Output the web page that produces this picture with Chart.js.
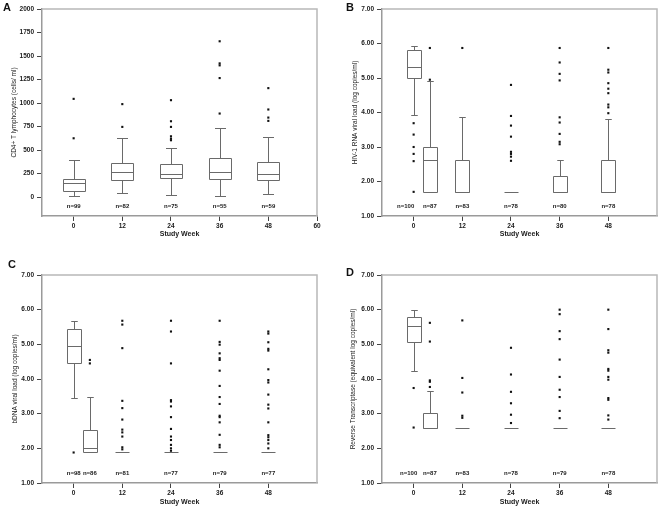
<!DOCTYPE html>
<html>
<head>
<meta charset="utf-8">
<script src="https://cdn.jsdelivr.net/npm/chart.js@4.4.1/dist/chart.umd.min.js"></script>
<style>
  html, body { margin: 0; padding: 0; background: #fff; }
  #wrap { position: relative; width: 661px; height: 508px; }
  canvas { position: absolute; }
  .letter { position: absolute; font: bold 11px "Liberation Sans", Arial, sans-serif; line-height: 11px; color: #111; }
</style>
</head>
<body>
<div id="wrap">
  <canvas id="chartA" width="330" height="254" style="left:0;top:0"></canvas>
  <canvas id="chartB" width="331" height="254" style="left:330px;top:0"></canvas>
  <canvas id="chartC" width="330" height="254" style="left:0;top:254px"></canvas>
  <canvas id="chartD" width="331" height="254" style="left:330px;top:254px"></canvas>
  <div class="letter" style="left:3px;top:2px">A</div>
  <div class="letter" style="left:346px;top:2px">B</div>
  <div class="letter" style="left:8px;top:259px">C</div>
  <div class="letter" style="left:346px;top:267px">D</div>
</div>
<script>
// tick labels
const weekTicksA = [0, 12, 24, 36, 48, 60];
const weekTicks = [0, 12, 24, 36, 48];
const cd4Ticks = [0, 250, 500, 750, 1000, 1250, 1500, 1750, 2000];
const logTicks = [1, 2, 3, 4, 5, 6, 7];

// A - CD4+ T lymphocytes
const aWeeks = [0, 12, 24, 36, 48];
const aLow = [10, 40, 28, 13, 38];
const aQ1 = [64, 180, 199, 197, 178];
const aMed = [152, 272, 249, 270, 243];
const aQ3 = [197, 367, 353, 413, 377];
const aHigh = [400, 632, 526, 730, 643];
const aCounts = [99, 82, 75, 55, 59];
const aOutliers = [
  [626, 1045],
  [747, 989],
  [605, 622, 647, 747, 807, 1031],
  [889, 1266, 1401, 1422, 1657],
  [811, 846, 932, 1159]
];

// B - HIV-1 RNA viral load
const bWeeks = [0, 4, 12, 24, 36, 48];
const bLow = [3.93, 1.70, 1.70, 1.70, 1.70, 1.70];
const bQ1 = [5.00, 1.70, 1.70, 1.70, 1.70, 1.70];
const bMed = [5.31, 2.61, 1.70, 1.70, 1.70, 1.70];
const bQ3 = [5.81, 3.00, 2.61, 1.70, 2.15, 2.61];
const bHigh = [5.94, 4.92, 3.86, 1.70, 2.61, 3.81];
const bCounts = [100, 87, 83, 78, 80, 78];
const bOutliers = [
  [3.69, 3.36, 3.00, 2.80, 2.59, 1.70],
  [5.87, 4.95],
  [5.87],
  [4.80, 3.90, 3.62, 3.30, 2.86, 2.80, 2.72, 2.60],
  [5.87, 5.45, 5.12, 4.93, 3.86, 3.71, 3.38, 3.15, 3.08],
  [5.87, 5.24, 5.16, 4.85, 4.69, 4.56, 4.23, 4.15, 3.98]
];

// C - bDNA viral load
const cWeeks = [0, 4, 12, 24, 36, 48];
const cLow = [3.45, 1.88, 1.88, 1.88, 1.88, 1.88];
const cQ1 = [4.46, 1.88, 1.88, 1.88, 1.88, 1.88];
const cMed = [4.94, 2.00, 1.88, 1.88, 1.88, 1.88];
const cQ3 = [5.44, 2.52, 1.88, 1.88, 1.88, 1.88];
const cHigh = [5.68, 3.47, 1.88, 1.88, 1.88, 1.88];
const cCounts = [98, 86, 81, 77, 79, 77];
const cOutliers = [
  [1.88],
  [4.55, 4.45],
  [5.68, 5.57, 4.89, 3.37, 3.16, 2.83, 2.54, 2.46, 2.34, 2.03, 1.97],
  [5.68, 5.37, 4.45, 3.39, 3.35, 3.21, 2.90, 2.56, 2.34, 2.24, 2.10, 2.00, 1.93],
  [5.68, 5.07, 4.99, 4.74, 4.60, 4.55, 4.24, 3.80, 3.48, 3.28, 2.94, 2.90, 2.75, 2.39, 2.10, 2.03],
  [5.37, 5.31, 5.06, 4.87, 4.82, 4.28, 3.97, 3.90, 3.55, 3.26, 3.15, 2.75, 2.38, 2.32, 2.24, 2.14, 2.00]
];

// D - Reverse Transcriptase
const dWeeks = [0, 4, 12, 24, 36, 48];
const dLow = [4.24, 2.60, 2.60, 2.60, 2.60, 2.60];
const dQ1 = [5.08, 2.60, 2.60, 2.60, 2.60, 2.60];
const dMed = [5.54, 2.60, 2.60, 2.60, 2.60, 2.60];
const dQ3 = [5.78, 3.03, 2.60, 2.60, 2.60, 2.60];
const dHigh = [5.99, 3.66, 2.60, 2.60, 2.60, 2.60];
const dCounts = [100, 87, 83, 78, 79, 78];
const dOutliers = [
  [3.74, 2.60],
  [5.62, 5.08, 3.96, 3.92, 3.77],
  [5.69, 4.03, 3.61, 2.94, 2.88],
  [4.90, 4.13, 3.63, 3.30, 2.97, 2.73],
  [6.00, 5.87, 5.38, 5.15, 4.56, 4.06, 3.69, 3.48, 3.08, 2.87],
  [6.00, 5.44, 4.83, 4.76, 4.29, 4.24, 4.06, 3.98, 3.45, 3.40, 2.95, 2.83]
];

const FONT = '"Liberation Sans", Arial, sans-serif';
const TEXT = '#1a1a1a';

// draws boxes, whiskers, frame and n= labels through the chart scales
function boxPlugin(p) {
  return {
    id: 'boxPlot',
    beforeDatasetsDraw(chart) {
      const { ctx, chartArea: a, scales: { x, y } } = chart;
      ctx.save();
      // top + right frame
      ctx.strokeStyle = '#b8b8b8';
      ctx.lineWidth = 1.5;
      ctx.beginPath();
      ctx.moveTo(a.left, a.top);
      ctx.lineTo(a.right, a.top);
      ctx.lineTo(a.right, a.bottom);
      ctx.stroke();

      ctx.strokeStyle = '#6a6a6a';
      ctx.lineWidth = 1;
      p.weeks.forEach((w, i) => {
        const cx = Math.round(x.getPixelForValue(w)) + 0.5;
        const hw = p.boxWidth / 2, cw = p.capWidth / 2;
        const py = v => Math.round(y.getPixelForValue(v)) + 0.5;
        const yLow = py(p.low[i]), yQ1 = py(p.q1[i]), yMed = py(p.med[i]);
        const yQ3 = py(p.q3[i]), yHigh = py(p.high[i]);
        ctx.beginPath();
        if (p.q3[i] > p.q1[i]) ctx.rect(cx - hw, yQ3, 2 * hw, yQ1 - yQ3);
        ctx.moveTo(cx - hw, yMed);
        ctx.lineTo(cx + hw, yMed);
        if (p.high[i] > p.q3[i]) {
          ctx.moveTo(cx, yQ3); ctx.lineTo(cx, yHigh);
          ctx.moveTo(cx - cw, yHigh); ctx.lineTo(cx + cw, yHigh);
        }
        if (p.low[i] < p.q1[i]) {
          ctx.moveTo(cx, yQ1); ctx.lineTo(cx, yLow);
          ctx.moveTo(cx - cw, yLow); ctx.lineTo(cx + cw, yLow);
        }
        ctx.stroke();
      });

      ctx.fillStyle = TEXT;
      ctx.font = 'bold 6px ' + FONT;
      ctx.textAlign = 'center';
      ctx.textBaseline = 'middle';
      p.counts.forEach((n, i) => {
        const cx = x.getPixelForValue(p.weeks[i]) + (p.countShift[i] || 0);
        ctx.fillText('n=' + n, cx, a.bottom - 10);
      });
      ctx.restore();
    }
  };
}

function makeChart(id, p) {
  const points = p.weeks.flatMap((w, i) => p.outliers[i].map(v => ({ x: w, y: v })));
  const tickFont = { family: FONT, size: 6.5, weight: 'bold' };
  const grid = { drawOnChartArea: false, drawTicks: true, tickLength: 5, color: '#444', lineWidth: 1 };
  const border = { display: true, color: '#9a9a9a', width: 1.5 };
  return new Chart(document.getElementById(id), {
    type: 'scatter',
    data: {
      datasets: [{
        data: points,
        pointStyle: 'rect',
        pointRadius: 1.5,
        pointBorderWidth: 0,
        backgroundColor: '#111',
        borderColor: '#111'
      }]
    },
    options: {
      responsive: false,
      animation: false,
      layout: { padding: p.padding },
      plugins: { legend: { display: false }, tooltip: { enabled: false } },
      scales: {
        x: {
          type: 'linear',
          min: -7.8,
          max: 60,
          afterFit: s => { s.height = p.xAxisHeight; },
          afterBuildTicks: s => { s.ticks = p.xTicks.map(v => ({ value: v })); },
          border, grid,
          ticks: { font: tickFont, color: TEXT, padding: 1, maxRotation: 0, autoSkip: false },
          title: {
            display: true, text: 'Study Week', color: TEXT,
            font: { family: FONT, size: 7, weight: 'bold' },
            padding: { top: 0, bottom: p.xTitlePad }
          }
        },
        y: {
          type: 'linear',
          min: p.yMin,
          max: p.yMax,
          afterFit: s => { s.width = p.yAxisWidth; },
          afterBuildTicks: s => { s.ticks = p.yTicks.map(v => ({ value: v })); },
          border, grid,
          ticks: { font: tickFont, color: TEXT, padding: 3, callback: p.yFormat },
          title: {
            display: true, text: p.yTitle, color: TEXT,
            font: { family: FONT, size: 6.5 },
            padding: { top: p.yTitlePad, bottom: 0 }
          }
        }
      }
    },
    plugins: [boxPlugin(p)]
  });
}

const fmt2 = v => Number(v).toFixed(2);

makeChart('chartA', {
  weeks: aWeeks, low: aLow, q1: aQ1, med: aMed, q3: aQ3, high: aHigh,
  counts: aCounts, outliers: aOutliers, countShift: [],
  xTicks: weekTicksA, yTicks: cd4Ticks, yMin: -200, yMax: 2000, yFormat: v => String(v),
  yTitle: 'CD4+ T lymphocytes (cells/ ml)',
  boxWidth: 22, capWidth: 11,
  padding: { top: 9, right: 13, bottom: 0, left: 0 },
  yAxisWidth: 42, xAxisHeight: 38, xTitlePad: 15.3, yTitlePad: 10.1
});

makeChart('chartB', {
  weeks: bWeeks, low: bLow, q1: bQ1, med: bMed, q3: bQ3, high: bHigh,
  counts: bCounts, outliers: bOutliers, countShift: [-8, 0],
  xTicks: weekTicks, yTicks: logTicks, yMin: 1, yMax: 7, yFormat: fmt2,
  yTitle: 'HIV-1 RNA viral load (log copies/ml)',
  boxWidth: 14, capWidth: 6.5,
  padding: { top: 9, right: 4, bottom: 0, left: 0 },
  yAxisWidth: 52, xAxisHeight: 38, xTitlePad: 15.3, yTitlePad: 21.5
});

makeChart('chartC', {
  weeks: cWeeks, low: cLow, q1: cQ1, med: cMed, q3: cQ3, high: cHigh,
  counts: cCounts, outliers: cOutliers, countShift: [0, 0],
  xTicks: weekTicks, yTicks: logTicks, yMin: 1, yMax: 7, yFormat: fmt2,
  yTitle: 'bDNA viral load (log copies/ml)',
  boxWidth: 14, capWidth: 6.5,
  padding: { top: 21, right: 13, bottom: 0, left: 0 },
  yAxisWidth: 42, xAxisHeight: 25, xTitlePad: 2.1, yTitlePad: 11.6
});

makeChart('chartD', {
  weeks: dWeeks, low: dLow, q1: dQ1, med: dMed, q3: dQ3, high: dHigh,
  counts: dCounts, outliers: dOutliers, countShift: [-5, 0],
  xTicks: weekTicks, yTicks: logTicks, yMin: 1, yMax: 7, yFormat: fmt2,
  yTitle: 'Reverse Transcriptase (equivalent log copies/ml)',
  boxWidth: 14, capWidth: 6.5,
  padding: { top: 21, right: 4, bottom: 0, left: 0 },
  yAxisWidth: 52, xAxisHeight: 25, xTitlePad: 2.1, yTitlePad: 19.5
});
</script>
</body>
</html>
